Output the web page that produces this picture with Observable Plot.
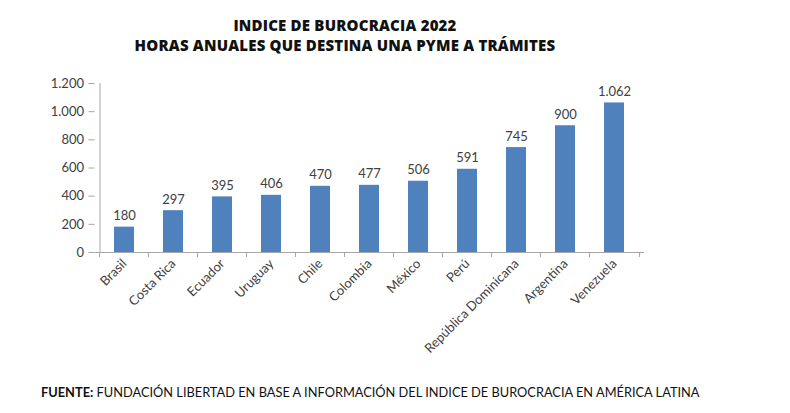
<!DOCTYPE html>
<html>
<head>
<meta charset="utf-8">
<script src="https://cdn.jsdelivr.net/npm/d3@7"></script>
<script src="https://cdn.jsdelivr.net/npm/@observablehq/plot@0.6"></script>
<style>
  html, body { margin: 0; padding: 0; background: #fff; }
  #wrap { width: 790px; height: 413px; position: relative; overflow: hidden; }
  #title { position: absolute; left: 0; top: 15px; width: 690px; text-align: center;
    font-family: "Open Sans", sans-serif; font-weight: 800; font-size: 15px; line-height: 20px; color: #111; letter-spacing: 0.2px; }
  #chart { position: absolute; left: 0; top: 60px; }
  #foot { position: absolute; left: 41px; top: 384px; font-family: Lato, sans-serif; font-size: 12.8px; line-height: 16px; color: #111; white-space: nowrap; }
  #foot b { font-weight: 700; }
</style>
</head>
<body>
<div id="wrap">
  <div id="title">INDICE DE BUROCRACIA 2022<br>HORAS ANUALES QUE DESTINA UNA PYME A TRÁMITES</div>
  <div id="chart"></div>
  <div id="foot"><b>FUENTE:</b> FUNDACIÓN LIBERTAD EN BASE A INFORMACIÓN DEL INDICE DE BUROCRACIA EN AMÉRICA LATINA</div>
</div>
<script>
const countries = ["Brasil", "Costa Rica", "Ecuador", "Uruguay", "Chile", "Colombia", "México", "Perú", "República Dominicana", "Argentina", "Venezuela"];
const hours = [180, 297, 395, 406, 470, 477, 506, 591, 745, 900, 1062];
const yTicks = [0, 200, 400, 600, 800, 1000, 1200];

const locale = d3.formatLocale({decimal: ",", thousands: ".", grouping: [3], currency: ["", ""]});
const fmt = locale.format(",d");

const data = countries.map((c, i) => ({country: c, value: hours[i]}));

const W = 790, H = 310, mL = 94.5, mR = 146;
const step = (W - mL - mR) / countries.length;

const plot = Plot.plot({
  width: W,
  height: H,
  marginTop: 23,
  marginBottom: 118,
  marginLeft: mL,
  marginRight: mR,
  style: {fontFamily: "Lato, sans-serif", fontSize: "13px", color: "#404040", background: "transparent"},
  x: {domain: countries, paddingInner: 0.6, paddingOuter: 0.3, label: null},
  y: {domain: [0, 1200], label: null},
  marks: [
    Plot.barY(data, {x: "country", y: "value", fill: "#4f81bd"}),
    Plot.text(data, {x: "country", y: "value", text: d => fmt(d.value), dy: -11, fill: "#404040", fontSize: 13}),
    Plot.axisY({ticks: yTicks, tickFormat: fmt, tickSize: 6, tickPadding: 5, stroke: "#a6a6a6", fill: "#404040", fontSize: 13}),
    Plot.ruleX([0], {x: () => countries[0], dx: -step / 2 + 0.5, stroke: "#a6a6a6"}),
    Plot.axisX({tickSize: 0, tickPadding: 9, tickRotate: -45, fill: "#404040", fontSize: 13}),
    Plot.ruleY([0], {stroke: "#a6a6a6"}),
    Plot.ruleX(countries, {x: d => d, y1: 0, y2: 0, dx: -step / 2, insetBottom: -5, stroke: "#a6a6a6"}),
    Plot.ruleX([countries[countries.length - 1]], {x: d => d, y1: 0, y2: 0, dx: step / 2, insetBottom: -5, stroke: "#a6a6a6"})
  ]
});
document.getElementById("chart").appendChild(plot);
</script>
</body>
</html>
